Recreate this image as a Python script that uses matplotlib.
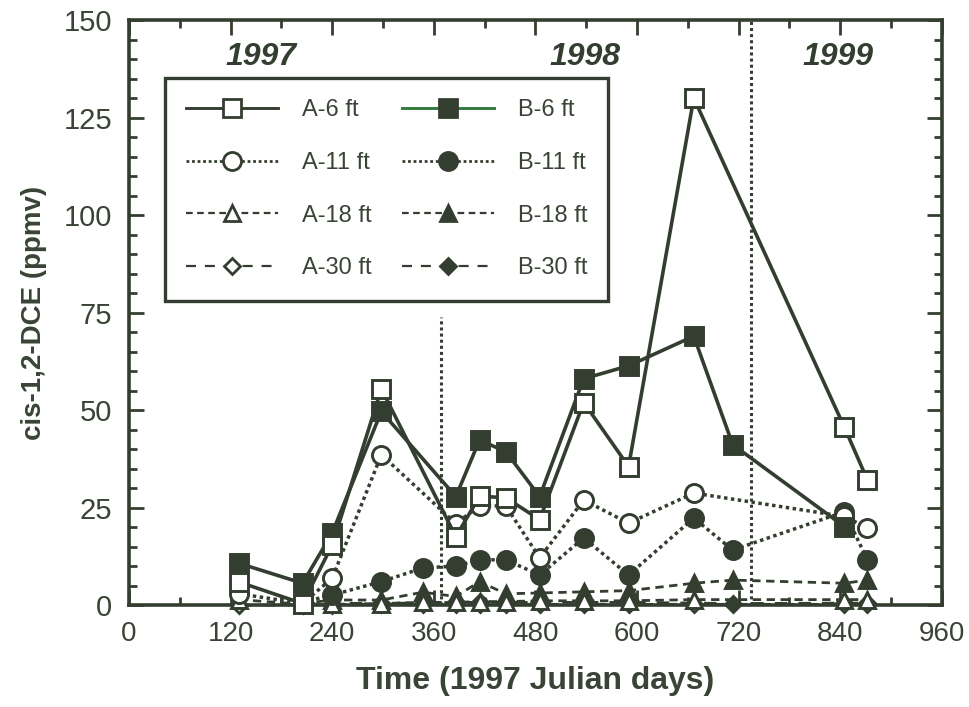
import matplotlib
matplotlib.use('Agg')
import matplotlib.pyplot as plt
from matplotlib.lines import Line2D
from matplotlib.ticker import MultipleLocator

# cis-1,2-DCE soil gas (ppmv) at the A and B probe nests, by 1997 Julian day
days_a6 = [130, 205, 240, 298, 386, 414, 445, 485, 537, 590, 667, 845, 872]
a6 = [6, 0.5, 15.5, 55.5, 17.6, 28, 27.6, 22, 52, 35.6, 130, 45.6, 32.2]
days_b6 = [130, 205, 240, 298, 386, 414, 445, 485, 537, 590, 667, 713, 845]
b6 = [10.8, 5.7, 18.6, 49.7, 27.9, 42.4, 39.4, 27.9, 58.1, 61.4, 69, 41.2, 20.2]

days_a11 = [130, 205, 240, 298, 386, 414, 445, 485, 537, 590, 667, 845, 872]
a11 = [3, 0.5, 7, 38.6, 21, 25.5, 25.5, 12.2, 27, 21.1, 28.8, 22.8, 19.9]
days_b11 = [205, 240, 298, 347, 386, 414, 445, 485, 537, 590, 667, 713, 845, 872]
b11 = [0.8, 2.7, 6.1, 9.6, 10.1, 11.7, 11.7, 7.8, 17.3, 7.8, 22.4, 14.2, 24, 11.7]

days_a18 = [130, 205, 240, 298, 347, 386, 414, 445, 485, 537, 590, 667, 845, 872]
a18 = [1.5, 0.3, 0.3, 0.5, 0.8, 0.8, 1, 1, 1.2, 1.2, 1.2, 1.5, 1.5, 1.5]
days_b18 = [205, 240, 298, 347, 386, 414, 445, 485, 537, 590, 667, 713, 845, 872]
b18 = [0.5, 1.4, 1.4, 3.4, 2.3, 6.1, 3, 3.2, 3.5, 3.8, 5.7, 6.5, 5.7, 6.5]

days_a30 = [130, 205, 240, 298, 347, 386, 414, 445, 485, 537, 590, 667, 845, 872]
a30 = [0, 0.2, 0.2, 0.3, 0.3, 0.3, 0.3, 0.3, 0.3, 0.3, 0.3, 0.3, 0.3, 0.3]
days_b30 = [205, 240, 298, 347, 386, 414, 445, 485, 537, 590, 713, 845, 872]
b30 = [0.5, 0.5, 0.6, 0.6, 0.8, 0.8, 0.8, 0.8, 0.8, 0.8, 0.5, 0.6, 0.6]

year_labels = ['1997', '1998', '1999']
year_label_days = [156, 538, 837]
year_breaks = [368, 735]

ink = '#343e30'
text_ink = '#3a4436'
sans = ['Liberation Sans', 'DejaVu Sans']

plt.rcParams['font.family'] = sans

fig = plt.figure(figsize=(9.7, 7.07), dpi=100)
ax = fig.add_axes([0.133, 0.1436, 0.838, 0.8281])

dotted = (0, (1, 1))
dash_short = (0, (3, 2))
dash_long = (0, (4.5, 4))

# (days, values, marker, filled, linestyle, size, lw, label)
series = [
    (days_b30, b30, 'D', True, dash_long, 8, 2.0, 'B-30 ft'),
    (days_a30, a30, 'D', False, dash_long, 8, 2.0, 'A-30 ft'),
    (days_b18, b18, '^', True, dash_short, 11, 2.0, 'B-18 ft'),
    (days_a18, a18, '^', False, dash_short, 11, 2.0, 'A-18 ft'),
    (days_b11, b11, 'o', True, dotted, 13, 2.5, 'B-11 ft'),
    (days_a11, a11, 'o', False, dotted, 13, 2.5, 'A-11 ft'),
    (days_b6, b6, 's', True, '-', 13.5, 2.6, 'B-6 ft'),
    (days_a6, a6, 's', False, '-', 13.5, 2.6, 'A-6 ft'),
]

handles = {}
for d, v, mk, filled, ls, ms, lw, lab in series:
    face = ink if filled else 'white'
    ax.plot(d, v, color=ink, linestyle=ls, linewidth=lw, marker=mk,
            markersize=ms, markerfacecolor=face, markeredgecolor=ink,
            markeredgewidth=2.1, clip_on=False, zorder=3)
    # the B-6 key line is printed green in the original figure
    line_col = '#2e7a3a' if lab == 'B-6 ft' else ink
    handles[lab] = Line2D([0], [0], color=line_col, linestyle=ls,
                          linewidth=lw * 0.8, marker=mk, markersize=ms,
                          markerfacecolor=face, markeredgecolor=ink,
                          markeredgewidth=2.0)

# year boundaries
ax.vlines(year_breaks[0], 0, 74, colors=ink, linestyles=dotted, linewidth=2.2,
          zorder=2)
ax.vlines(year_breaks[1], 0, 150, colors=ink, linestyles=dotted,
          linewidth=2.2, zorder=2)
for lab, x in zip(year_labels, year_label_days):
    ax.text(x, 140.6, lab, ha='center', va='center', fontsize=23,
            fontweight='bold', fontstyle='italic', color=ink)

ax.set_xlim(0, 960)
ax.set_ylim(0, 150)
ax.xaxis.set_major_locator(MultipleLocator(120))
ax.xaxis.set_minor_locator(MultipleLocator(60))
ax.yaxis.set_major_locator(MultipleLocator(25))
ax.yaxis.set_minor_locator(MultipleLocator(5))
ax.tick_params(which='both', direction='in', top=True, right=True,
               color=ink, width=2.0)
ax.tick_params(which='major', length=11)
ax.tick_params(which='minor', length=6)
ax.tick_params(axis='y', which='major', labelsize=21, pad=12,
               labelcolor=text_ink)
ax.tick_params(axis='x', which='major', labelsize=20, pad=11,
               labelcolor=text_ink)
for sp in ax.spines.values():
    sp.set_linewidth(2.6)
    sp.set_color(ink)

ax.set_xlabel('Time (1997 Julian days)', fontsize=23, fontweight='bold',
              color=text_ink, labelpad=14)
ax.set_ylabel('cis-1,2-DCE (ppmv)', fontsize=20, fontweight='bold',
              color=text_ink, labelpad=12)

order = ['A-6 ft', 'A-11 ft', 'A-18 ft', 'A-30 ft',
         'B-6 ft', 'B-11 ft', 'B-18 ft', 'B-30 ft']
leg = ax.legend([handles[k] for k in order], order, ncol=2,
                loc='upper left', bbox_to_anchor=(0.044, 0.901),
                borderaxespad=0, fontsize=17, handlelength=3.9,
                handletextpad=1.0, columnspacing=1.3, labelspacing=1.3,
                borderpad=0.9, numpoints=1, fancybox=False, framealpha=1,
                edgecolor=ink)
leg.get_frame().set_linewidth(2.4)
for t in leg.get_texts():
    t.set_color(text_ink)

fig.savefig('out.png', dpi=100)
